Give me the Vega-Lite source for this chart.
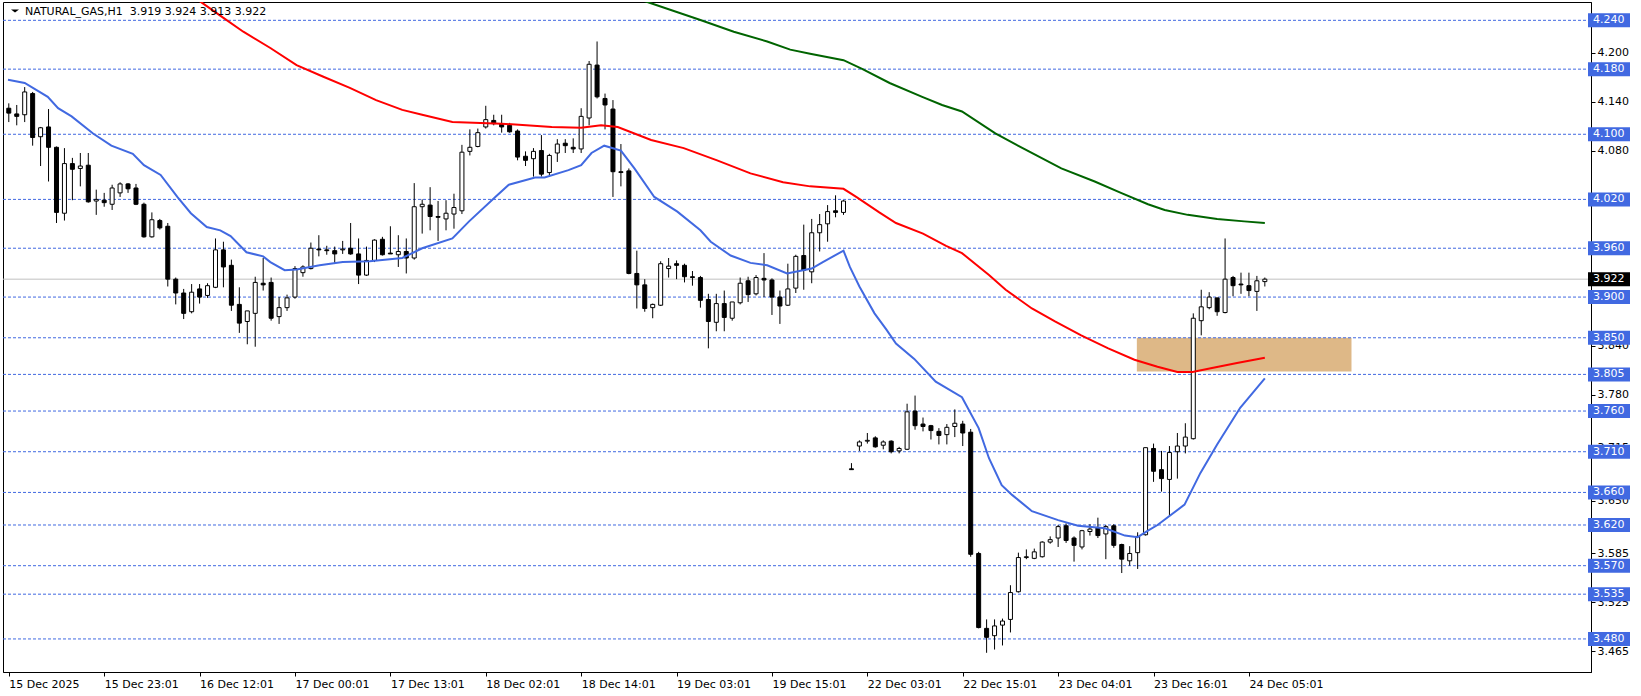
{
"$schema": "https://vega.github.io/schema/vega-lite/v6.json",
"width": 1588, "height": 670,
"padding": {"left": 3, "top": 2, "right": 50, "bottom": 24},
"autosize": {"type": "none"},
"background": "white",
"config": {"view": {"stroke": "black", "strokeWidth": 1}, "font": "DejaVu Sans"},
"datasets": {
"candles": [
{"i":0,"o":4.132,"h":4.138,"l":4.115,"c":4.126},{"i":1,"o":4.125,"h":4.136,"l":4.111,"c":4.122},{"i":2,"o":4.124,"h":4.158,"l":4.115,"c":4.152},{"i":3,"o":4.150,"h":4.152,"l":4.086,"c":4.096},{"i":4,"o":4.097,"h":4.109,"l":4.061,"c":4.108},{"i":5,"o":4.109,"h":4.131,"l":4.042,"c":4.084},{"i":6,"o":4.084,"h":4.085,"l":3.991,"c":4.004},{"i":7,"o":4.003,"h":4.083,"l":3.994,"c":4.064},{"i":8,"o":4.064,"h":4.071,"l":4.019,"c":4.057},{"i":9,"o":4.058,"h":4.077,"l":4.036,"c":4.061},
{"i":10,"o":4.062,"h":4.077,"l":4.016,"c":4.017},{"i":11,"o":4.018,"h":4.032,"l":4.001,"c":4.020},{"i":12,"o":4.019,"h":4.028,"l":4.011,"c":4.016},{"i":13,"o":4.014,"h":4.038,"l":4.007,"c":4.034},{"i":14,"o":4.028,"h":4.041,"l":4.023,"c":4.039},{"i":15,"o":4.039,"h":4.040,"l":4.028,"c":4.033},{"i":16,"o":4.034,"h":4.039,"l":4.013,"c":4.014},{"i":17,"o":4.014,"h":4.016,"l":3.973,"c":3.974},{"i":18,"o":3.974,"h":4.004,"l":3.973,"c":3.995},{"i":19,"o":3.994,"h":3.996,"l":3.983,"c":3.985},
{"i":20,"o":3.987,"h":3.991,"l":3.913,"c":3.922},{"i":21,"o":3.922,"h":3.924,"l":3.891,"c":3.905},{"i":22,"o":3.905,"h":3.910,"l":3.873,"c":3.880},{"i":23,"o":3.882,"h":3.916,"l":3.880,"c":3.906},{"i":24,"o":3.910,"h":3.916,"l":3.892,"c":3.900},{"i":25,"o":3.902,"h":3.917,"l":3.899,"c":3.914},{"i":26,"o":3.912,"h":3.972,"l":3.911,"c":3.958},{"i":27,"o":3.958,"h":3.968,"l":3.912,"c":3.937},{"i":28,"o":3.939,"h":3.946,"l":3.883,"c":3.890},{"i":29,"o":3.891,"h":3.912,"l":3.856,"c":3.868},
{"i":30,"o":3.870,"h":3.883,"l":3.842,"c":3.883},{"i":31,"o":3.880,"h":3.925,"l":3.839,"c":3.918},{"i":32,"o":3.917,"h":3.948,"l":3.908,"c":3.915},{"i":33,"o":3.918,"h":3.924,"l":3.871,"c":3.874},{"i":34,"o":3.876,"h":3.900,"l":3.867,"c":3.887},{"i":35,"o":3.887,"h":3.903,"l":3.883,"c":3.899},{"i":36,"o":3.900,"h":3.938,"l":3.898,"c":3.935},{"i":37,"o":3.930,"h":3.939,"l":3.925,"c":3.937},{"i":38,"o":3.935,"h":3.967,"l":3.934,"c":3.960},{"i":39,"o":3.959,"h":3.976,"l":3.950,"c":3.958},
{"i":40,"o":3.958,"h":3.963,"l":3.952,"c":3.957},{"i":41,"o":3.957,"h":3.962,"l":3.942,"c":3.953},{"i":42,"o":3.958,"h":3.969,"l":3.953,"c":3.959},{"i":43,"o":3.960,"h":3.991,"l":3.952,"c":3.953},{"i":44,"o":3.953,"h":3.972,"l":3.916,"c":3.927},{"i":45,"o":3.927,"h":3.962,"l":3.926,"c":3.945},{"i":46,"o":3.945,"h":3.971,"l":3.943,"c":3.970},{"i":47,"o":3.971,"h":3.974,"l":3.951,"c":3.952},{"i":48,"o":3.954,"h":3.987,"l":3.953,"c":3.953},{"i":49,"o":3.952,"h":3.976,"l":3.937,"c":3.956},
{"i":50,"o":3.956,"h":3.972,"l":3.929,"c":3.948},{"i":51,"o":3.948,"h":4.040,"l":3.946,"c":4.011},{"i":52,"o":4.011,"h":4.020,"l":3.978,"c":4.014},{"i":53,"o":4.013,"h":4.035,"l":3.982,"c":3.999},{"i":54,"o":3.999,"h":4.018,"l":3.969,"c":3.998},{"i":55,"o":3.996,"h":4.019,"l":3.982,"c":4.003},{"i":56,"o":4.002,"h":4.027,"l":3.984,"c":4.010},{"i":57,"o":4.006,"h":4.087,"l":4.002,"c":4.078},{"i":58,"o":4.079,"h":4.106,"l":4.074,"c":4.084},{"i":59,"o":4.085,"h":4.107,"l":4.084,"c":4.102},
{"i":60,"o":4.109,"h":4.135,"l":4.107,"c":4.118},{"i":61,"o":4.117,"h":4.124,"l":4.111,"c":4.113},{"i":62,"o":4.113,"h":4.124,"l":4.102,"c":4.109},{"i":63,"o":4.111,"h":4.114,"l":4.102,"c":4.103},{"i":64,"o":4.104,"h":4.106,"l":4.068,"c":4.072},{"i":65,"o":4.073,"h":4.079,"l":4.061,"c":4.068},{"i":66,"o":4.070,"h":4.083,"l":4.048,"c":4.079},{"i":67,"o":4.080,"h":4.099,"l":4.048,"c":4.051},{"i":68,"o":4.053,"h":4.076,"l":4.050,"c":4.074},{"i":69,"o":4.077,"h":4.094,"l":4.066,"c":4.088},
{"i":70,"o":4.089,"h":4.094,"l":4.077,"c":4.086},{"i":71,"o":4.084,"h":4.095,"l":4.077,"c":4.082},{"i":72,"o":4.082,"h":4.132,"l":4.077,"c":4.122},{"i":73,"o":4.120,"h":4.190,"l":4.111,"c":4.186},{"i":74,"o":4.185,"h":4.214,"l":4.144,"c":4.146},{"i":75,"o":4.144,"h":4.150,"l":4.106,"c":4.136},{"i":76,"o":4.131,"h":4.142,"l":4.023,"c":4.054},{"i":77,"o":4.054,"h":4.088,"l":4.036,"c":4.053},{"i":78,"o":4.055,"h":4.058,"l":3.928,"c":3.929},{"i":79,"o":3.929,"h":3.957,"l":3.886,"c":3.915},
{"i":80,"o":3.915,"h":3.922,"l":3.882,"c":3.886},{"i":81,"o":3.887,"h":3.892,"l":3.874,"c":3.891},{"i":82,"o":3.890,"h":3.944,"l":3.889,"c":3.941},{"i":83,"o":3.935,"h":3.948,"l":3.924,"c":3.938},{"i":84,"o":3.941,"h":3.945,"l":3.922,"c":3.939},{"i":85,"o":3.939,"h":3.941,"l":3.918,"c":3.925},{"i":86,"o":3.925,"h":3.932,"l":3.914,"c":3.924},{"i":87,"o":3.924,"h":3.926,"l":3.887,"c":3.896},{"i":88,"o":3.897,"h":3.904,"l":3.837,"c":3.870},{"i":89,"o":3.869,"h":3.904,"l":3.858,"c":3.892},
{"i":90,"o":3.892,"h":3.908,"l":3.858,"c":3.875},{"i":91,"o":3.874,"h":3.894,"l":3.871,"c":3.894},{"i":92,"o":3.893,"h":3.924,"l":3.891,"c":3.917},{"i":93,"o":3.920,"h":3.925,"l":3.894,"c":3.903},{"i":94,"o":3.904,"h":3.927,"l":3.902,"c":3.924},{"i":95,"o":3.923,"h":3.954,"l":3.900,"c":3.921},{"i":96,"o":3.921,"h":3.923,"l":3.878,"c":3.900},{"i":97,"o":3.900,"h":3.908,"l":3.867,"c":3.889},{"i":98,"o":3.890,"h":3.941,"l":3.889,"c":3.910},{"i":99,"o":3.911,"h":3.952,"l":3.905,"c":3.950},
{"i":100,"o":3.951,"h":3.989,"l":3.909,"c":3.933},{"i":101,"o":3.931,"h":3.996,"l":3.917,"c":3.979},{"i":102,"o":3.979,"h":4.002,"l":3.956,"c":3.989},{"i":103,"o":3.990,"h":4.013,"l":3.968,"c":4.005},{"i":104,"o":4.006,"h":4.025,"l":3.998,"c":4.004},{"i":105,"o":4.004,"h":4.019,"l":4.001,"c":4.018},{"i":106,"o":3.689,"h":3.696,"l":3.688,"c":3.688},{"i":107,"o":3.717,"h":3.724,"l":3.711,"c":3.722},{"i":108,"o":3.723,"h":3.733,"l":3.720,"c":3.724},{"i":109,"o":3.727,"h":3.729,"l":3.715,"c":3.716},
{"i":110,"o":3.718,"h":3.724,"l":3.713,"c":3.722},{"i":111,"o":3.723,"h":3.724,"l":3.708,"c":3.710},{"i":112,"o":3.711,"h":3.716,"l":3.708,"c":3.714},{"i":113,"o":3.713,"h":3.769,"l":3.712,"c":3.759},{"i":114,"o":3.760,"h":3.779,"l":3.737,"c":3.742},{"i":115,"o":3.744,"h":3.752,"l":3.735,"c":3.741},{"i":116,"o":3.742,"h":3.743,"l":3.725,"c":3.736},{"i":117,"o":3.735,"h":3.739,"l":3.719,"c":3.730},{"i":118,"o":3.731,"h":3.744,"l":3.719,"c":3.740},{"i":119,"o":3.741,"h":3.762,"l":3.728,"c":3.745},
{"i":120,"o":3.744,"h":3.748,"l":3.717,"c":3.733},{"i":121,"o":3.734,"h":3.738,"l":3.581,"c":3.584},{"i":122,"o":3.585,"h":3.587,"l":3.493,"c":3.494},{"i":123,"o":3.493,"h":3.504,"l":3.463,"c":3.482},{"i":124,"o":3.484,"h":3.504,"l":3.467,"c":3.496},{"i":125,"o":3.497,"h":3.505,"l":3.472,"c":3.502},{"i":126,"o":3.504,"h":3.546,"l":3.488,"c":3.537},{"i":127,"o":3.538,"h":3.586,"l":3.537,"c":3.580},{"i":128,"o":3.580,"h":3.590,"l":3.578,"c":3.581},{"i":129,"o":3.579,"h":3.591,"l":3.578,"c":3.587},
{"i":130,"o":3.581,"h":3.600,"l":3.580,"c":3.599},{"i":131,"o":3.599,"h":3.606,"l":3.597,"c":3.602},{"i":132,"o":3.604,"h":3.620,"l":3.593,"c":3.618},{"i":133,"o":3.619,"h":3.622,"l":3.598,"c":3.601},{"i":134,"o":3.604,"h":3.606,"l":3.575,"c":3.595},{"i":135,"o":3.593,"h":3.614,"l":3.590,"c":3.613},{"i":136,"o":3.612,"h":3.621,"l":3.607,"c":3.615},{"i":137,"o":3.617,"h":3.629,"l":3.604,"c":3.607},{"i":138,"o":3.609,"h":3.620,"l":3.578,"c":3.618},{"i":139,"o":3.619,"h":3.621,"l":3.592,"c":3.595},
{"i":140,"o":3.596,"h":3.597,"l":3.561,"c":3.578},{"i":141,"o":3.576,"h":3.594,"l":3.570,"c":3.585},{"i":142,"o":3.586,"h":3.611,"l":3.566,"c":3.606},{"i":143,"o":3.608,"h":3.715,"l":3.607,"c":3.715},{"i":144,"o":3.714,"h":3.720,"l":3.673,"c":3.686},{"i":145,"o":3.688,"h":3.711,"l":3.661,"c":3.677},{"i":146,"o":3.676,"h":3.717,"l":3.631,"c":3.709},{"i":147,"o":3.710,"h":3.733,"l":3.677,"c":3.717},{"i":148,"o":3.717,"h":3.745,"l":3.708,"c":3.728},{"i":149,"o":3.726,"h":3.880,"l":3.725,"c":3.874},
{"i":150,"o":3.871,"h":3.909,"l":3.853,"c":3.888},{"i":151,"o":3.887,"h":3.906,"l":3.885,"c":3.900},{"i":152,"o":3.899,"h":3.899,"l":3.877,"c":3.882},{"i":153,"o":3.881,"h":3.972,"l":3.880,"c":3.922},{"i":154,"o":3.924,"h":3.926,"l":3.901,"c":3.914},{"i":155,"o":3.916,"h":3.930,"l":3.904,"c":3.915},{"i":156,"o":3.914,"h":3.930,"l":3.901,"c":3.908},{"i":157,"o":3.907,"h":3.926,"l":3.883,"c":3.920},{"i":158,"o":3.919,"h":3.924,"l":3.913,"c":3.922}
],
"blue": [
{"i":-0.1,"p":4.167},{"i":2,"p":4.163},{"i":4.9,"p":4.146},{"i":6.2,"p":4.132},{"i":7.9,"p":4.122},{"i":10.6,"p":4.101},{"i":12.9,"p":4.086},{"i":15.6,"p":4.076},{"i":17,"p":4.062},{"i":19.1,"p":4.05},{"i":21.2,"p":4.023},{"i":22.9,"p":4.003},{"i":24.9,"p":3.986},{"i":26.6,"p":3.982},{"i":27.9,"p":3.975},{"i":29.9,"p":3.955},{"i":32,"p":3.95},{"i":32.9,"p":3.943},{"i":34.7,"p":3.933},{"i":36.2,"p":3.934},{"i":39.1,"p":3.939},{"i":42,"p":3.943},{"i":45.4,"p":3.944},{"i":49.5,"p":3.948},{"i":52,"p":3.96},{"i":55.8,"p":3.972},{"i":57.9,"p":3.993},{"i":61.2,"p":4.023},{"i":62.9,"p":4.038},{"i":66.2,"p":4.047},{"i":67.4,"p":4.047},{"i":70.4,"p":4.056},{"i":72,"p":4.062},{"i":73.3,"p":4.077},{"i":74.9,"p":4.086},{"i":77,"p":4.08},{"i":78.7,"p":4.058},{"i":81.2,"p":4.023},{"i":84.1,"p":4.005},{"i":87,"p":3.982},{"i":88.3,"p":3.968},{"i":90.8,"p":3.951},{"i":93.3,"p":3.942},{"i":95.4,"p":3.939},{"i":97.9,"p":3.929},{"i":99.9,"p":3.933},{"i":101,"p":3.935},{"i":102.4,"p":3.943},{"i":103.7,"p":3.95},{"i":105,"p":3.957},{"i":105.8,"p":3.937},{"i":107,"p":3.913},{"i":108.9,"p":3.88},{"i":110.4,"p":3.86},{"i":111.6,"p":3.843},{"i":113.9,"p":3.824},{"i":116.6,"p":3.796},{"i":119.9,"p":3.777},{"i":122,"p":3.739},{"i":123.3,"p":3.702},{"i":124.9,"p":3.669},{"i":126.2,"p":3.657},{"i":128.7,"p":3.637},{"i":132,"p":3.626},{"i":134.5,"p":3.619},{"i":137.9,"p":3.616},{"i":140.4,"p":3.607},{"i":142,"p":3.605},{"i":143.3,"p":3.613},{"i":144.5,"p":3.62},{"i":147.9,"p":3.645},{"i":149.9,"p":3.684},{"i":152,"p":3.719},{"i":154.9,"p":3.764},{"i":158,"p":3.8}
],
"red": [
{"i":23.5,"p":4.267},{"i":24.1,"p":4.263},{"i":27,"p":4.243},{"i":29.5,"p":4.226},{"i":32.9,"p":4.206},{"i":36.2,"p":4.185},{"i":39.5,"p":4.171},{"i":42.9,"p":4.157},{"i":46.2,"p":4.142},{"i":49.5,"p":4.13},{"i":52,"p":4.124},{"i":55.8,"p":4.115},{"i":62,"p":4.113},{"i":68.3,"p":4.109},{"i":72,"p":4.108},{"i":74.5,"p":4.111},{"i":76.6,"p":4.109},{"i":80.8,"p":4.093},{"i":84.9,"p":4.083},{"i":89.1,"p":4.068},{"i":93.3,"p":4.052},{"i":97.4,"p":4.041},{"i":100.8,"p":4.036},{"i":105,"p":4.033},{"i":106.6,"p":4.023},{"i":109.5,"p":4.004},{"i":111.6,"p":3.991},{"i":115,"p":3.978},{"i":117.9,"p":3.963},{"i":119.9,"p":3.954},{"i":123.3,"p":3.927},{"i":125.4,"p":3.909},{"i":128.7,"p":3.886},{"i":131.6,"p":3.87},{"i":134.9,"p":3.853},{"i":138.3,"p":3.837},{"i":141.6,"p":3.823},{"i":144.5,"p":3.8145},{"i":147,"p":3.808},{"i":148.9,"p":3.808},{"i":151.2,"p":3.8125},{"i":154.5,"p":3.819},{"i":158,"p":3.8255}
],
"green": [
{"i":79.5,"p":4.2652},{"i":80.6,"p":4.2616},{"i":87,"p":4.2404},{"i":91.2,"p":4.226},{"i":95.4,"p":4.214},{"i":98.3,"p":4.204},{"i":100.8,"p":4.199},{"i":105,"p":4.191},{"i":107.4,"p":4.18},{"i":110.8,"p":4.163},{"i":114.9,"p":4.146},{"i":117.4,"p":4.136},{"i":119.9,"p":4.128},{"i":124.1,"p":4.101},{"i":127.9,"p":4.081},{"i":132.4,"p":4.058},{"i":136.6,"p":4.042},{"i":139.9,"p":4.028},{"i":143.3,"p":4.014},{"i":145.4,"p":4.007},{"i":148.3,"p":4.001},{"i":152,"p":3.996},{"i":155.4,"p":3.993},{"i":158,"p":3.991}
],
"levels": [
{"lv":4.24},{"lv":4.18},{"lv":4.10},{"lv":4.02},{"lv":3.96},{"lv":3.90},{"lv":3.85},{"lv":3.805},{"lv":3.76},{"lv":3.71},{"lv":3.66},{"lv":3.62},{"lv":3.57},{"lv":3.535},{"lv":3.48}
]
},
"layer": [
{"data": {"values": [{"a":141.9,"b":168.9,"top":3.85,"bot":3.8085}]},
 "mark": {"type": "rect", "color": "#DEB887"},
 "encoding": {
  "x": {"field": "a", "type": "quantitative", "scale": {"domain": [-0.1, 198.4], "nice": false, "zero": false},
   "axis": {"orient": "bottom", "title": null, "values": [0,12,24,36,48,60,72,84,96,108,120,132,144,156],
    "labelExpr": "['15 Dec 2025','15 Dec 23:01','16 Dec 12:01','17 Dec 00:01','17 Dec 13:01','18 Dec 02:01','18 Dec 14:01','19 Dec 03:01','19 Dec 15:01','22 Dec 03:01','22 Dec 15:01','23 Dec 04:01','23 Dec 16:01','24 Dec 05:01'][round(datum.value/12)]",
    "labelAlign": "left", "labelBaseline": "top", "labelPadding": 2, "labelFont": "DejaVu Sans", "labelFontSize": 11, "labelColor": "black",
    "labelFlush": false, "labelOverlap": false, "tickSize": 4, "tickColor": "black", "domainColor": "black", "grid": false}},
  "x2": {"field": "b"},
  "y": {"field": "top", "type": "quantitative", "scale": {"domain": [3.4394, 4.2625], "nice": false, "zero": false},
   "axis": {"orient": "right", "title": null, "values": [4.2,4.14,4.08,3.84,3.78,3.715,3.65,3.585,3.525,3.465],
    "format": ".3f", "labelPadding": 2, "labelFont": "DejaVu Sans", "labelFontSize": 11, "labelColor": "black",
    "labelFlush": false, "labelOverlap": false, "tickSize": 4, "tickColor": "black", "domainColor": "black", "grid": false}},
  "y2": {"field": "bot"}
 }},
{"data": {"name": "levels"},
 "mark": {"type": "rule", "color": "#4169E1", "strokeWidth": 1, "strokeDash": [3, 2]},
 "encoding": {"y": {"field": "lv", "type": "quantitative"}}},
{"data": {"values": [{"p": 3.922}]},
 "mark": {"type": "rule", "color": "#C0C0C0", "strokeWidth": 1},
 "encoding": {"y": {"field": "p", "type": "quantitative"}}},
{"data": {"name": "candles"},
 "mark": {"type": "rule", "color": "black", "strokeWidth": 1},
 "encoding": {"x": {"field": "i", "type": "quantitative"}, "y": {"field": "h", "type": "quantitative"}, "y2": {"field": "l"}}},
{"data": {"name": "candles"},
 "mark": {"type": "bar", "width": 4, "stroke": "black", "strokeWidth": 1},
 "encoding": {"x": {"field": "i", "type": "quantitative"}, "y": {"field": "o", "type": "quantitative"}, "y2": {"field": "c"},
  "fill": {"condition": {"test": "datum.c >= datum.o", "value": "white"}, "value": "black"}}},
{"data": {"name": "blue"},
 "mark": {"type": "line", "color": "#4169E1", "strokeWidth": 2, "clip": true},
 "encoding": {"x": {"field": "i", "type": "quantitative"}, "y": {"field": "p", "type": "quantitative"}}},
{"data": {"name": "red"},
 "mark": {"type": "line", "color": "#FF0000", "strokeWidth": 2, "clip": true},
 "encoding": {"x": {"field": "i", "type": "quantitative"}, "y": {"field": "p", "type": "quantitative"}}},
{"data": {"name": "green"},
 "mark": {"type": "line", "color": "#006400", "strokeWidth": 2, "clip": true},
 "encoding": {"x": {"field": "i", "type": "quantitative"}, "y": {"field": "p", "type": "quantitative"}}},
{"data": {"name": "levels"},
 "mark": {"type": "point", "shape": "M-1,-0.3333L1,-0.3333L1,0.3333L-1,0.3333Z", "size": 1764, "filled": true, "opacity": 1, "strokeWidth": 0, "color": "#4169E1", "xOffset": 23},
 "encoding": {"x": {"datum": 198.4, "type": "quantitative"}, "y": {"field": "lv", "type": "quantitative"}}},
{"data": {"values": [{"p": 3.922}]},
 "mark": {"type": "point", "shape": "M-1,-0.3333L1,-0.3333L1,0.3333L-1,0.3333Z", "size": 1764, "filled": true, "opacity": 1, "strokeWidth": 0, "color": "black", "xOffset": 23},
 "encoding": {"x": {"datum": 198.4, "type": "quantitative"}, "y": {"field": "p", "type": "quantitative"}}},
{"data": {"name": "levels"},
 "mark": {"type": "text", "color": "white", "font": "DejaVu Sans", "fontSize": 11, "align": "left", "baseline": "middle", "dx": 7},
 "encoding": {"x": {"datum": 198.4, "type": "quantitative"}, "y": {"field": "lv", "type": "quantitative"}, "text": {"field": "lv", "type": "quantitative", "format": ".3f"}}},
{"data": {"values": [{"p": 3.922}]},
 "mark": {"type": "text", "color": "white", "font": "DejaVu Sans", "fontSize": 11, "align": "left", "baseline": "middle", "dx": 7},
 "encoding": {"x": {"datum": 198.4, "type": "quantitative"}, "y": {"field": "p", "type": "quantitative"}, "text": {"field": "p", "type": "quantitative", "format": ".3f"}}},
{"data": {"values": [{"t": "NATURAL_GAS,H1\u00a0 3.919 3.924 3.913 3.922"}]},
 "mark": {"type": "text", "color": "black", "font": "DejaVu Sans", "fontSize": 11, "align": "left", "baseline": "middle", "dx": 17, "dy": 9.5},
 "encoding": {"x": {"datum": -0.1, "type": "quantitative"}, "y": {"datum": 4.2625, "type": "quantitative"}, "text": {"field": "t"}}},
{"data": {"values": [{"t": "v"}]},
 "mark": {"type": "point", "shape": "M-1,-0.4L1,-0.4L0,0.4Z", "size": 64, "filled": true, "opacity": 1, "strokeWidth": 0, "color": "black", "xOffset": 7, "yOffset": 9},
 "encoding": {"x": {"datum": -0.1, "type": "quantitative"}, "y": {"datum": 4.2625, "type": "quantitative"}}}
]
}
